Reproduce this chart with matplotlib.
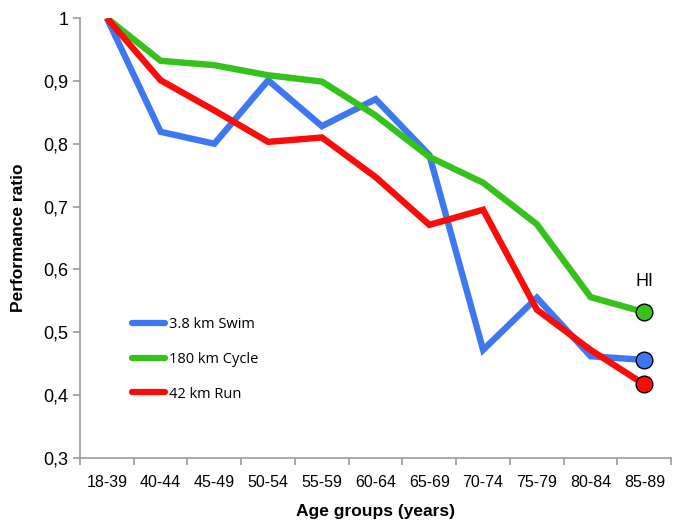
import matplotlib.pyplot as plt
import numpy as np

age_groups = ["18-39", "40-44", "45-49", "50-54", "55-59", "60-64",
              "65-69", "70-74", "75-79", "80-84", "85-89"]
swim = [1.0, 0.819, 0.800, 0.901, 0.828, 0.871, 0.782, 0.472, 0.555, 0.462, 0.456]
cycle = [1.0, 0.932, 0.925, 0.909, 0.899, 0.845, 0.779, 0.738, 0.672, 0.556, 0.532]
run = [1.0, 0.901, 0.853, 0.803, 0.810, 0.747, 0.671, 0.695, 0.536, 0.472, 0.417]

series = [
    ("3.8 km Swim", swim, "#3d78f2"),
    ("180 km Cycle", cycle, "#35c21a"),
    ("42 km Run", run, "#ff0a0a"),
]

plt.rcParams["font.family"] = ["Liberation Sans", "DejaVu Sans"]

fig = plt.figure(figsize=(6.78, 5.25), dpi=100)
ax = fig.add_axes([0.118, 0.1276, 0.872, 0.838])

x = np.arange(len(age_groups))
for label, vals, color in series:
    ax.plot(x, vals, color=color, lw=4.6, solid_joinstyle="miter",
            solid_capstyle="butt", label=label, zorder=2)
    # 最后一个年龄组用带黑边的圆点标出
    ax.plot(x[-1], vals[-1], "o", ms=12, mfc=color, mec="black", mew=1.0,
            zorder=3)

ax.text(x[-1], cycle[-1] + 0.035, "HI", ha="center", va="bottom", fontsize=13)

ax.set_xlim(-0.5, len(age_groups) - 0.5)
ax.set_ylim(0.3, 1.0)
ax.set_yticks(np.arange(0.3, 1.01, 0.1))
ax.set_yticklabels(["0,3", "0,4", "0,5", "0,6", "0,7", "0,8", "0,9", "1"])
ax.set_xticks(x)
ax.set_xticklabels(age_groups)
# 刻度线画在类别之间
ax.set_xticks(np.arange(-0.5, len(age_groups), 1.0), minor=True)

ax.tick_params(axis="x", which="major", length=0, pad=12, labelsize=11.5)
ax.tick_params(axis="x", which="minor", length=5, color="#999999", width=1.2)
ax.tick_params(axis="y", length=5, color="#999999", width=1.2, labelsize=13)

for side in ["top", "right"]:
    ax.spines[side].set_visible(False)
for side in ["left", "bottom"]:
    ax.spines[side].set_color("#999999")
    ax.spines[side].set_linewidth(1.2)

ax.set_xlabel("Age groups (years)", fontsize=12.5, fontweight="bold", labelpad=10)
ax.set_ylabel("Performance ratio", fontsize=12.5, fontweight="bold", labelpad=12)

leg = ax.legend(loc="upper left", bbox_to_anchor=(0.065, 0.35), frameon=False,
                handlelength=2.3, handletextpad=0.3, labelspacing=1.35,
                prop={"family": "Open Sans", "size": 10.5})
for line in leg.get_lines():
    line.set_linewidth(4.5)
    line.set_solid_capstyle("round")

fig.savefig("out.png", dpi=100)
